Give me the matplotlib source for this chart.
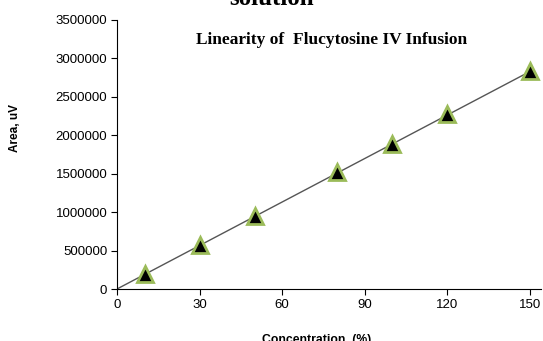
import numpy as np
import matplotlib
matplotlib.use('Agg')
import matplotlib.pyplot as plt

# данные линейности
conc = [10, 30, 50, 80, 100, 120, 150]
area = [195000, 575000, 955000, 1520000, 1885000, 2275000, 2840000]
xticks = [0, 30, 60, 90, 120, 150]
yticks = [0, 500000, 1000000, 1500000, 2000000, 2500000, 3000000, 3500000]

fig = plt.figure(figsize=(5.43, 3.41), dpi=100)
ax = fig.add_axes([117 / 543, 1 - 289 / 341, 424 / 543, 269 / 341])

# линия тренда
k, b = np.polyfit(conc, area, 1)
xl = np.array([0, 150])
ax.plot(xl, k * xl, color='#555555', lw=1.0, zorder=2)

ax.plot(conc, area, '^', ms=11, mfc='black', mec='#9bbb59', mew=2.0, zorder=3)

ax.set_xlim(0, 154)
ax.set_ylim(0, 3500000)
ax.set_xticks(xticks)
ax.set_yticks(yticks)
ax.set_xticklabels([str(t) for t in xticks], fontfamily='Liberation Sans', fontsize=9.5)
ax.set_yticklabels([str(t) for t in yticks], fontfamily='Liberation Sans', fontsize=9.5)
ax.tick_params(direction='out', length=4, width=0.8, colors='black', pad=3)
for s in ['top', 'right']:
    ax.spines[s].set_visible(False)

ax.text(0.505, 0.925, 'Linearity of  Flucytosine IV Infusion', transform=ax.transAxes,
        ha='center', va='center', fontfamily='Liberation Serif', fontweight='bold', fontsize=12.5)

fig.text(272 / 543, 1 - 5 / 341, 'solution', ha='center', va='baseline',
         fontfamily='Liberation Serif', fontweight='bold', fontsize=18)
fig.text(15 / 543, 1 - 128 / 341, 'Area, uV', rotation=90, ha='center', va='center',
         fontfamily='Liberation Sans', fontweight='bold', fontsize=8.5)
fig.text(317 / 543, 1 - 334 / 341, 'Concentration, (%)', ha='center', va='top',
         fontfamily='Liberation Sans', fontweight='bold', fontsize=8.8)

fig.savefig('out.png', dpi=100)
